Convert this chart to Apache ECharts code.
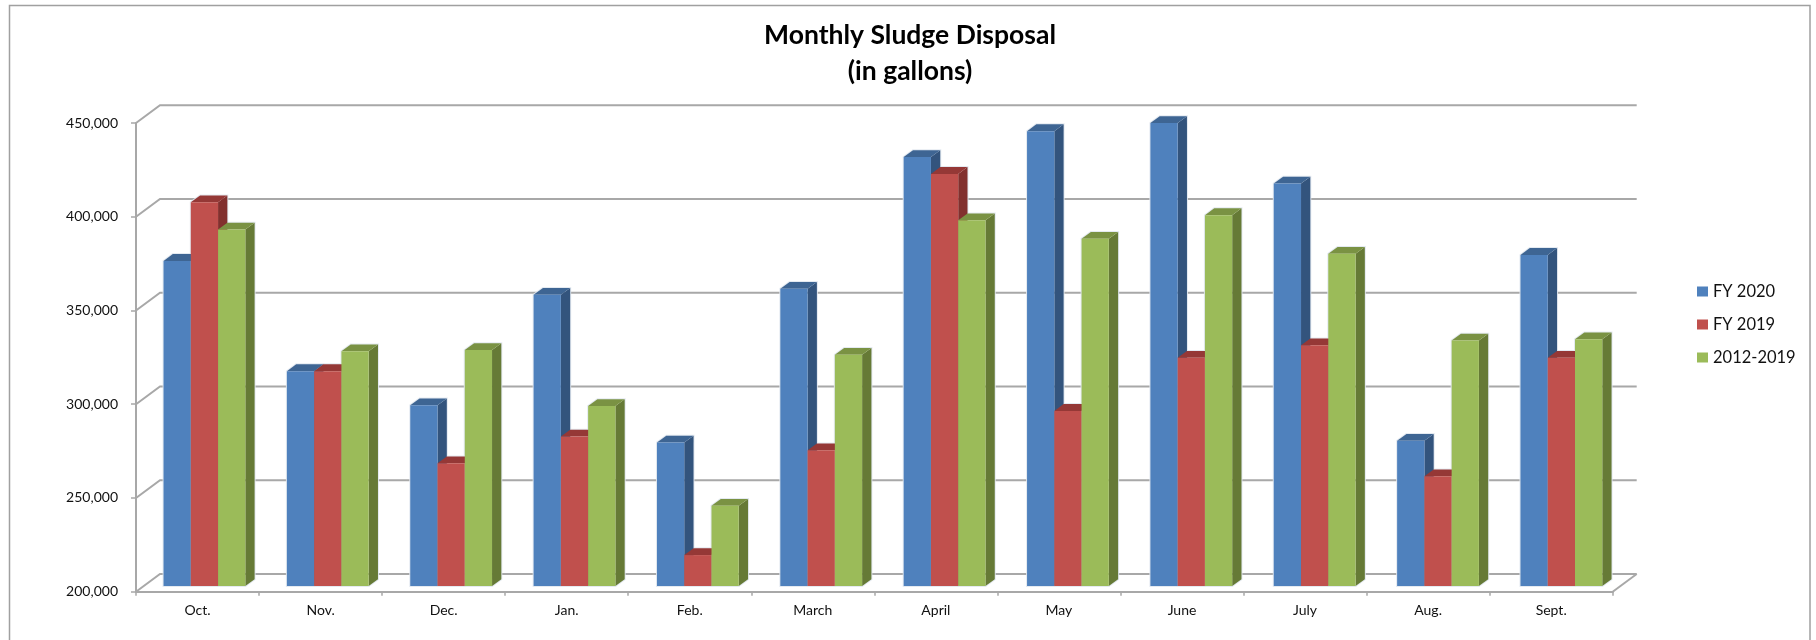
<!DOCTYPE html>
<html>
<head>
<meta charset="utf-8">
<title>Monthly Sludge Disposal</title>
<script src="https://cdn.jsdelivr.net/npm/echarts@6/dist/echarts.min.js"></script>
<style>
html, body { margin: 0; padding: 0; background: #fff; }
#chart { width: 1816px; height: 640px; }
</style>
</head>
<body>
<div id="chart"></div>
<script>
var months = ['Oct.', 'Nov.', 'Dec.', 'Jan.', 'Feb.', 'March', 'April', 'May', 'June', 'July', 'Aug.', 'Sept.'];
var fy2020 = [373400, 314600, 296400, 355300, 276500, 358500, 428800, 442600, 446900, 414700, 277500, 376600];
var fy2019 = [404700, 314600, 265500, 279700, 216500, 272400, 419800, 293400, 321700, 328400, 258500, 321700];
var avg1219 = [390100, 325200, 325900, 296000, 242800, 323300, 395100, 385200, 397800, 377200, 330900, 331600];
var yTicks = [200000, 250000, 300000, 350000, 400000, 450000];

var lineColor = '#a8a8a8';
// front, side, top colours of each 3D bar
var blue = ['#4f81bd', '#33547d', '#3e6593'];
var red = ['#c0504d', '#82302e', '#953836'];
var green = ['#9bbb59', '#667a36', '#7a9243'];

// back wall sits up and to the right of the axes
var wallDx = 24, wallDy = -17.7;
var barDx = 9.3, barDy = -6.8, floorLift = 5.7;

function toData(arr) {
    return arr.map(function (v, i) { return [i, v]; });
}

// front box of a bar: slot = 0,1,2 position of the bar inside its month
function barBox(slot, api) {
    var idx = api.value(0);
    var top = api.coord([idx, api.value(1)]);
    var base = api.coord([idx, 200000]);
    var w = api.size([1, 0])[0] * 0.2215;
    return {
        x: top[0] + 6.9 + idx * 0.3 + (slot - 1.5) * w,
        w: w,
        y1: top[1] - floorLift,
        y0: base[1] - floorLift
    };
}

function barRenderer(slot, colors) {
    return function (params, api) {
        var b = barBox(slot, api);
        var x = b.x, w = b.w, y1 = b.y1, y0 = b.y0;
        return {
            type: 'group',
            children: [
                { type: 'polygon',
                  shape: { points: [[x + w, y0], [x + w, y1], [x + w + barDx, y1 + barDy], [x + w + barDx, y0 + barDy]] },
                  style: { fill: colors[1] } },
                { type: 'polygon',
                  shape: { points: [[x, y1], [x + barDx, y1 + barDy], [x + w + barDx, y1 + barDy], [x + w, y1]] },
                  style: { fill: colors[2] } },
                { type: 'rect', shape: { x: x, y: y1, width: w, height: y0 - y1 },
                  style: { fill: colors[0] } }
            ]
        };
    };
}

// pale glow round the bar, drawn under all the bars
function haloRenderer(slot) {
    return function (params, api) {
        var b = barBox(slot, api);
        var x = b.x, w = b.w, y1 = b.y1, y0 = b.y0;
        return {
            type: 'polygon',
            shape: { points: [[x, y0], [x, y1], [x + barDx, y1 + barDy], [x + w + barDx, y1 + barDy],
                [x + w + barDx, y0 + barDy], [x + w, y0]] },
            style: { fill: 'none', stroke: 'rgba(225,232,240,0.9)', lineWidth: 2 }
        };
    };
}

// gridlines on the back wall plus the diagonal back to the y axis
function wallRenderer(params, api) {
    var left = api.coord([0, api.value(0)]);
    var band = api.size([1, 0])[0];
    var x0 = left[0] - band / 2, y = left[1];
    var x1 = x0 + band * months.length;
    var lines = [[[x0, y], [x0 + wallDx, y + wallDy], [x1 + wallDx, y + wallDy]]];
    if (api.value(0) === yTicks[0]) {
        lines.push([[x1, y], [x1 + wallDx, y + wallDy]]);
    }
    return {
        type: 'group',
        children: lines.map(function (pts) {
            return { type: 'polyline', shape: { points: pts },
                     style: { fill: 'none', stroke: lineColor, lineWidth: 2 } };
        })
    };
}

function barSeries(name, arr, slot, colors) {
    return {
        name: name,
        type: 'custom',
        coordinateSystem: 'cartesian2d',
        renderItem: barRenderer(slot, colors),
        itemStyle: { color: colors[0] },
        data: toData(arr),
        encode: { x: 0, y: 1 },
        clip: false,
        z: 3 + slot
    };
}

function haloSeries(arr, slot) {
    return {
        name: 'halo' + slot,
        type: 'custom',
        coordinateSystem: 'cartesian2d',
        renderItem: haloRenderer(slot),
        data: toData(arr),
        encode: { x: 0, y: 1 },
        clip: false,
        silent: true,
        z: 2
    };
}

var myChart = echarts.init(document.getElementById('chart'), null, { renderer: 'canvas' });
myChart.setOption({
    animation: false,
    backgroundColor: '#fff',
    textStyle: { fontFamily: 'Lato' },
    title: {
        text: 'Monthly Sludge Disposal\n(in gallons)',
        left: 910,
        top: 17,
        padding: 0,
        textAlign: 'center',
        textStyle: { fontFamily: 'Lato', fontSize: 26.5, fontWeight: 'bold', color: '#000', lineHeight: 36 }
    },
    legend: {
        orient: 'vertical',
        left: 1697,
        top: 283,
        padding: 0,
        itemWidth: 11,
        itemHeight: 10,
        itemGap: 16,
        icon: 'rect',
        selectedMode: false,
        data: ['FY 2020', 'FY 2019', '2012-2019'],
        textStyle: { fontFamily: 'Lato', fontSize: 16.5, color: '#111' }
    },
    grid: { left: 136, right: 203.3, top: 123, bottom: 48.3 },
    xAxis: {
        type: 'category',
        data: months,
        boundaryGap: true,
        axisLine: { lineStyle: { color: lineColor, width: 2 } },
        axisTick: { show: true, length: 4, lineStyle: { color: lineColor, width: 1.5 } },
        axisLabel: { color: '#111', fontSize: 14, margin: 12, fontFamily: 'Lato' }
    },
    yAxis: {
        type: 'value',
        min: 200000,
        max: 450000,
        interval: 50000,
        splitLine: { show: false },
        axisLine: { show: true, lineStyle: { color: lineColor, width: 2 } },
        axisTick: { show: true, length: 5, lineStyle: { color: lineColor, width: 1.5 } },
        axisLabel: {
            color: '#111', fontSize: 14, margin: 18, fontFamily: 'Lato',
            formatter: function (v) { return v.toLocaleString('en-US'); }
        }
    },
    graphic: [{
        type: 'polyline',
        silent: true,
        shape: { points: [[9.5, 640], [9.5, 5.5], [1810, 5.5], [1810, 640]] },
        style: { fill: 'none', stroke: '#a0a0a0', lineWidth: 1.5 }
    }],
    series: [
        {
            name: 'wall',
            type: 'custom',
            coordinateSystem: 'cartesian2d',
            renderItem: wallRenderer,
            data: yTicks.map(function (t) { return [t]; }),
            encode: { y: 0 },
            clip: false,
            silent: true,
            z: 1
        },
        haloSeries(fy2020, 0),
        haloSeries(fy2019, 1),
        haloSeries(avg1219, 2),
        barSeries('FY 2020', fy2020, 0, blue),
        barSeries('FY 2019', fy2019, 1, red),
        barSeries('2012-2019', avg1219, 2, green)
    ]
});
</script>
</body>
</html>
